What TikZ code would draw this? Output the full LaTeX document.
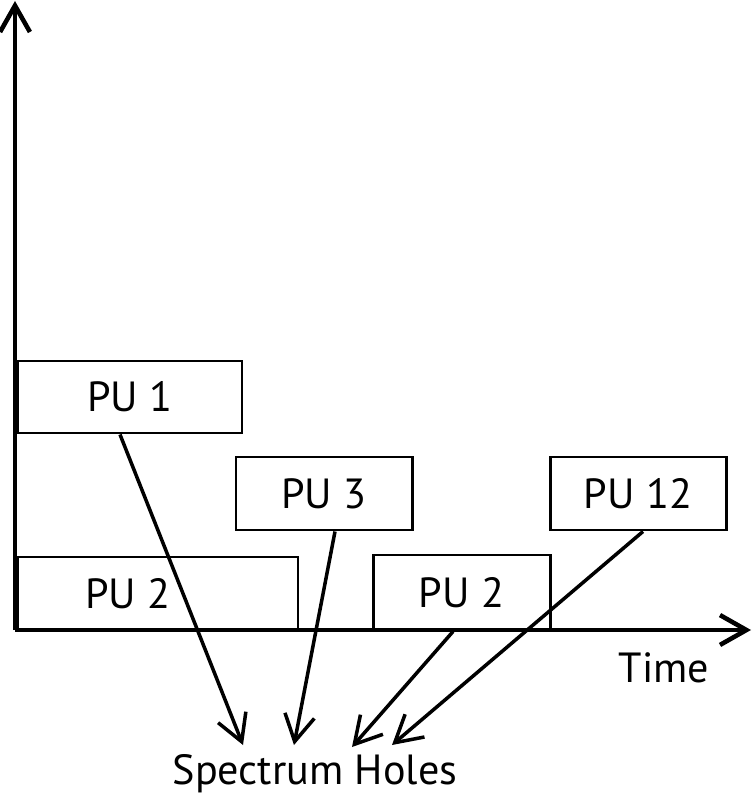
\documentclass[tikz,border=0pt]{standalone}
\usepackage{fontspec}
\setmainfont{PT Sans}
\usetikzlibrary{arrows.meta}
\begin{document}
\begin{tikzpicture}[x=0.02cm, y=-0.02cm, >={Straight Barb[length=15pt, width=17pt]},
    pu/.style={rectangle, draw, line width=1.7pt, inner sep=0pt, font=\fontsize{24}{28}\selectfont},
    lbl/.style={font=\fontsize{24}{28}\selectfont}]
    \useasboundingbox (0,0) rectangle (753,800);

    % axes
    \coordinate (O) at (15,630);
    \coordinate (Ytip) at (15,1);
    \coordinate (Xtip) at (751,630);

    \node[pu, minimum width=224*0.02cm, minimum height=72*0.02cm] (pu1) at (130,397) {PU 1};
    \node[pu, minimum width=176*0.02cm, minimum height=73*0.02cm] (pu3) at (324,493.5) {PU 3};
    \node[pu, minimum width=176*0.02cm, minimum height=73*0.02cm] (pu12) at (638,493.5) {PU 12};
    \node[pu, minimum width=280*0.02cm, minimum height=73*0.02cm,
          label={[lbl, xshift=-0.6cm]center:PU 2}] (pu2a) at (158,593.5) {};
    \node[pu, minimum width=177*0.02cm, minimum height=75*0.02cm] (pu2b) at (461.5,592.5) {PU 2};

    \node[lbl] (time) at (664,668) {Time};
    \node[lbl] (holes) at (315,774) {Spectrum Holes};

    \coordinate (h1) at (243,745);
    \coordinate (h2) at (294,745);
    \coordinate (h3) at (352,747);
    \coordinate (h4) at (392,745);

    \draw[line width=2.6pt, ->] (O) -- (Ytip);
    \draw[line width=2.6pt, ->] (O) -- (Xtip);

    \draw[line width=2pt, ->] ([xshift=-0.2cm]pu1.south) -- (h1);
    \draw[line width=2pt, ->] ([xshift=0.22cm]pu3.south) -- (h2);
    \draw[line width=2pt, ->] ([xshift=-0.17cm]pu2b.south) -- (h3);
    \draw[line width=2pt, ->] ([xshift=0.1cm]pu12.south) -- (h4);
\end{tikzpicture}
\end{document}
